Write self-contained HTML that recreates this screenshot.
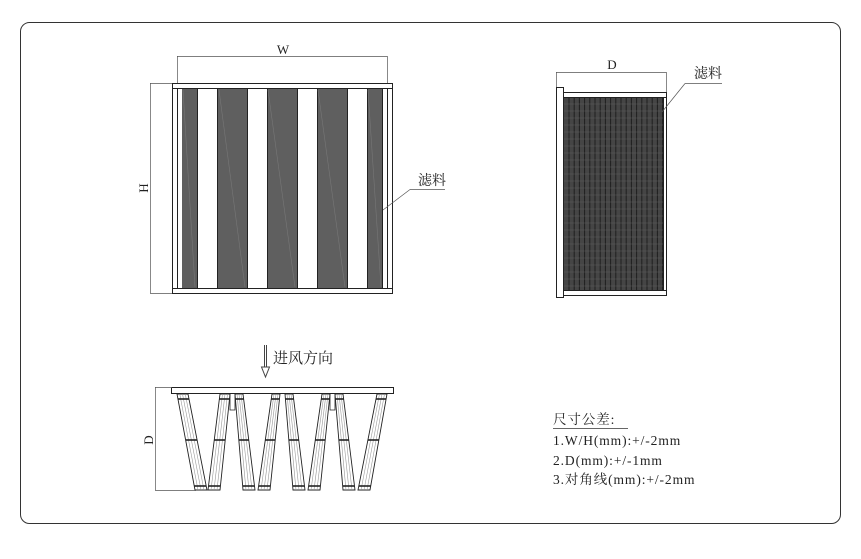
<!DOCTYPE html>
<html><head><meta charset="utf-8"><style>
html,body{margin:0;padding:0;background:#fff;}
svg{display:block;}
text{font-family:"Liberation Serif","Noto Serif CJK SC",serif;fill:#222;}
</style></head><body>
<svg id="s" width="861" height="559" viewBox="0 0 861 559" xmlns="http://www.w3.org/2000/svg">
<rect x="20.5" y="22.5" width="820" height="501" rx="9" fill="#fff" stroke="#333" stroke-width="1"/>

<!-- Front view -->
<g stroke="#222" stroke-width="1">
<rect x="172.5" y="83.5" width="220" height="5" fill="#fff"/>
<rect x="172.5" y="288.5" width="220" height="5" fill="#fff"/>
<rect x="172.5" y="88.5" width="5" height="200" fill="#fff"/>
<rect x="177.5" y="88.5" width="5" height="200" fill="#fff"/>
<rect x="382.5" y="88.5" width="5" height="200" fill="#fff"/>
<rect x="387.5" y="88.5" width="5" height="200" fill="#fff"/>
</g>
<g fill="#5f5f5f">
<rect x="182" y="89" width="15" height="199"/>
<rect x="218" y="89" width="29" height="199"/>
<rect x="267" y="89" width="30" height="199"/>
<rect x="317" y="89" width="30" height="199"/>
<rect x="367" y="89" width="15" height="199"/>
</g>
<g stroke="#222" stroke-width="1" fill="#fff">
<rect x="197.5" y="88.5" width="20" height="200"/>
<rect x="247.5" y="88.5" width="20" height="200"/>
<rect x="297.5" y="88.5" width="20" height="200"/>
<rect x="347.5" y="88.5" width="20" height="200"/>
</g>
<g stroke="#777" stroke-width="0.6">
<line x1="183" y1="90" x2="195" y2="287"/><line x1="219" y1="90" x2="245" y2="287"/>
<line x1="268" y1="90" x2="295" y2="287"/><line x1="318" y1="90" x2="345" y2="287"/>
<line x1="368" y1="90" x2="381" y2="287"/>
</g>
<g stroke="#555" stroke-width="0.7" fill="none">
<line x1="177" y1="56.5" x2="387" y2="56.5"/>
<line x1="177.5" y1="56" x2="177.5" y2="83"/><line x1="387.5" y1="56" x2="387.5" y2="83"/>
<line x1="150.5" y1="83" x2="150.5" y2="293"/>
<line x1="150" y1="83.5" x2="172" y2="83.5"/><line x1="150" y1="293.5" x2="172" y2="293.5"/>
<line x1="410" y1="189.5" x2="445" y2="189.5"/><line x1="410" y1="189.5" x2="383" y2="210"/>
</g>
<text x="283" y="54" font-size="13" text-anchor="middle">W</text>
<text transform="translate(148,188) rotate(-90)" font-size="13" text-anchor="middle">H</text>
<text x="418" y="185" font-size="14">滤料</text>

<!-- Side view -->
<rect x="556.5" y="87.5" width="7" height="210" fill="#fff" stroke="#222"/>
<rect x="563.5" y="92.5" width="103" height="5" fill="#fff" stroke="#222"/>
<rect x="563.5" y="290.5" width="103" height="5" fill="#fff" stroke="#222"/>
<rect x="663.5" y="97.5" width="3" height="193" fill="#fff" stroke="#222"/>
<rect x="564" y="98" width="99" height="192" fill="#454545"/>
<g id="side" stroke="#1e1e1e" stroke-width="1"></g>
<g stroke="#555" stroke-width="0.7">
<line x1="556" y1="72.5" x2="666" y2="72.5"/>
<line x1="556.5" y1="72" x2="556.5" y2="87"/><line x1="666.5" y1="72" x2="666.5" y2="92"/>
<line x1="685" y1="83.5" x2="722" y2="83.5"/><line x1="685" y1="83.5" x2="662" y2="112"/>
</g>
<text x="612" y="69" font-size="13" text-anchor="middle">D</text>
<text x="694" y="78" font-size="14">滤料</text>

<!-- Bottom/top view -->
<line x1="264.5" y1="345" x2="264.5" y2="368" stroke="#444"/>
<line x1="266.5" y1="345" x2="266.5" y2="368" stroke="#444"/>
<path d="M261.5 367 L269.5 367 L265.5 377 Z" fill="#fff" stroke="#444"/>
<text x="273" y="363" font-size="15" fill="#555">进风方向</text>
<rect x="171.5" y="387.5" width="222" height="6" fill="#fff" stroke="#222"/>
<g id="packs"></g>
<path d="M230 393 L230 410 L235 410 L235 393 M330 393 L330 410 L335 410 L335 393" fill="none" stroke="#222" stroke-width="0.8"/>
<g stroke="#555" stroke-width="0.7">
<line x1="155.5" y1="387" x2="155.5" y2="490"/>
<line x1="155" y1="387.5" x2="172" y2="387.5"/><line x1="155" y1="490.5" x2="196" y2="490.5"/>
</g>
<text transform="translate(153,440) rotate(-90)" font-size="13" text-anchor="middle">D</text>

<!-- Tolerances -->
<g font-size="13.5" letter-spacing="0.9">
<text x="553" y="424">尺寸公差:</text>
<text x="553" y="445">1.W/H(mm):+/-2mm</text>
<text x="553" y="465">2.D(mm):+/-1mm</text>
<text x="553" y="484">3.对角线(mm):+/-2mm</text>
</g>
<line x1="553" y1="428.5" x2="628" y2="428.5" stroke="#333" stroke-width="0.8"/>
</svg>
<script>
var NS="http://www.w3.org/2000/svg";
function el(p,n,a){var e=document.createElementNS(NS,n);for(var k in a)e.setAttribute(k,a[k]);p.appendChild(e);return e;}
var side=document.getElementById("side");
for(var x=569;x<663;x+=5.2){el(side,"line",{x1:x,y1:98,x2:x,y2:290});}
for(var y=104;y<290;y+=7){el(side,"line",{x1:564,y1:y,x2:663,y2:y,stroke:"#666","stroke-width":"0.4"});}
var packs=document.getElementById("packs");
var P=[[177,188,195,207],[220,230,208,220],[235,243,243,255],[272,280,258,270],[285,293,293,305],[322,330,308,320],[335,343,343,355],[377,387,358,370]];
P.forEach(function(p){
 var t=394,b=490;
 el(packs,"polygon",{points:p[0]+","+t+" "+p[1]+","+t+" "+p[3]+","+b+" "+p[2]+","+b,fill:"#fff",stroke:"#222","stroke-width":"0.9"});
 for(var i=1;i<4;i++){var f=i/4;
  el(packs,"line",{x1:p[0]+(p[1]-p[0])*f,y1:t,x2:p[2]+(p[3]-p[2])*f,y2:b,stroke:"#999","stroke-width":"0.6"});}
 [399,440,486].forEach(function(yy){var f=(yy-t)/(b-t);
  var l=p[0]+(p[2]-p[0])*f, r=p[1]+(p[3]-p[1])*f;
  el(packs,"line",{x1:l,y1:yy,x2:r,y2:yy,stroke:"#222","stroke-width":"1.6"});});
});
</script>
</body></html>
